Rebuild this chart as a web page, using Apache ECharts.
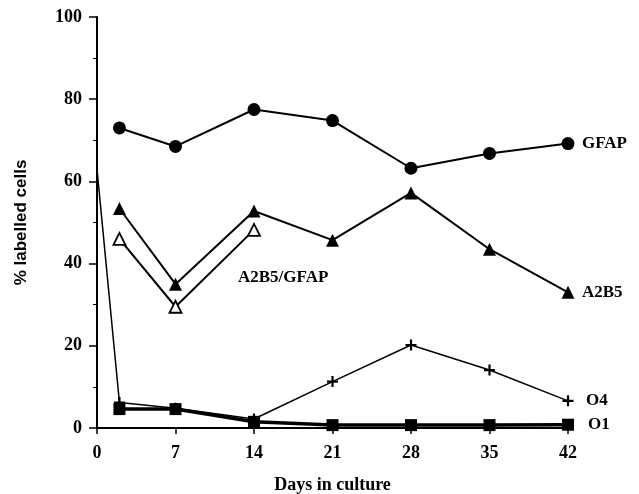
<!DOCTYPE html>
<html>
<head>
<meta charset="utf-8">
<script src="https://cdn.jsdelivr.net/npm/echarts@6/dist/echarts.min.js"></script>
<style>
  html, body { margin: 0; padding: 0; background: #fff; }
  #chart { width: 639px; height: 494px; }
</style>
</head>
<body>
<div id="chart"></div>
<script>
// days in culture
const days = [2, 7, 14, 21, 28, 35, 42];
const a2b5GfapDays = [2, 7, 14];
const o4Days = [0, 2, 7, 14, 21, 28, 35, 42];
// % labelled cells
const gfap = [73, 68.5, 77.5, 74.8, 63.2, 66.8, 69.2];
const a2b5 = [53.4, 35, 52.8, 45.7, 57.2, 43.5, 33];
const a2b5Gfap = [46, 29.5, 48.2];
const o4 = [63, 6.2, 4.8, 2.2, 11.3, 20.2, 14.1, 6.6];
const o1 = [4.6, 4.6, 1.5, 0.7, 0.7, 0.7, 0.8];
const yTicks = [0, 20, 40, 60, 80, 100];
const xTicks = [0, 7, 14, 21, 28, 35, 42];

const serif = "'Liberation Serif', 'Times New Roman', serif";
const plus = "path://M4,0H6V4H10V6H6V10H4V6H0V4H4Z";

const pairs = (xs, ys) => xs.map((x, i) => [x, ys[i]]);

const labelStyle = {
  fontFamily: serif,
  fontWeight: "bold",
  fontSize: 17,
  color: "#000",
};

const chart = echarts.init(document.getElementById("chart"));

chart.setOption({
  animation: false,
  backgroundColor: "#fff",
  grid: { left: 97, right: 71, top: 17, bottom: 66, containLabel: false, outerBoundsMode: "none" },
  xAxis: {
    type: "value",
    min: xTicks[0],
    max: xTicks[xTicks.length - 1],
    interval: 7,
    name: "Days in culture",
    nameLocation: "middle",
    nameGap: 48,
    nameTextStyle: { fontFamily: serif, fontWeight: "bold", fontSize: 18, color: "#000" },
    axisLine: { lineStyle: { color: "#000", width: 2 } },
    axisTick: { show: true, inside: false, length: 6, lineStyle: { color: "#000", width: 1.5 } },
    axisLabel: { margin: 16, fontFamily: serif, fontWeight: "bold", fontSize: 18, color: "#000" },
    splitLine: { show: false },
  },
  yAxis: {
    type: "value",
    min: yTicks[0],
    max: yTicks[yTicks.length - 1],
    interval: 20,
    name: "% labelled cells",
    nameLocation: "middle",
    nameGap: 67,
    nameTextStyle: { fontFamily: "'Liberation Sans', Arial, sans-serif", fontWeight: "bold", fontSize: 17, color: "#000" },
    axisLine: { show: true, lineStyle: { color: "#000", width: 2 } },
    axisTick: { show: true, length: 8, lineStyle: { color: "#000", width: 1.5 } },
    minorTick: { show: true, splitNumber: 2, length: 4, lineStyle: { color: "#000", width: 1 } },
    axisLabel: { margin: 15, fontFamily: serif, fontWeight: "bold", fontSize: 18, color: "#000" },
    splitLine: { show: false },
  },
  series: [
    {
      name: "GFAP",
      type: "line",
      data: pairs(days, gfap),
      symbol: "circle",
      symbolSize: 13,
      itemStyle: { color: "#000" },
      lineStyle: { color: "#000", width: 2 },
      endLabel: Object.assign({ show: true, formatter: "GFAP", distance: 14 }, labelStyle),
    },
    {
      name: "A2B5",
      type: "line",
      data: pairs(days, a2b5),
      symbol: "triangle",
      symbolSize: 13,
      itemStyle: { color: "#000" },
      lineStyle: { color: "#000", width: 2 },
      endLabel: Object.assign({ show: true, formatter: "A2B5", distance: 14 }, labelStyle),
    },
    {
      name: "A2B5/GFAP",
      type: "line",
      data: pairs(a2b5GfapDays, a2b5Gfap),
      symbol: "triangle",
      symbolSize: 12,
      itemStyle: { color: "#fff", borderColor: "#000", borderWidth: 1.8 },
      lineStyle: { color: "#000", width: 2 },
      markPoint: {
        symbol: "rect",
        symbolSize: 1,
        itemStyle: { color: "rgba(0,0,0,0)", borderWidth: 0 },
        data: [{ coord: [16.6, 36.7], name: "A2B5/GFAP" }],
        label: Object.assign({ show: true, position: "inside", formatter: "A2B5/GFAP" }, labelStyle),
      },
    },
    {
      name: "O4",
      type: "line",
      data: pairs(o4Days, o4).map((p, i) => (i === 0 ? { value: p, symbol: "none" } : p)),
      symbol: plus,
      symbolSize: 11,
      itemStyle: { color: "#000" },
      lineStyle: { color: "#000", width: 1.5 },
      endLabel: Object.assign({ show: true, formatter: "O4", distance: 18 }, labelStyle),
    },
    {
      name: "O1",
      type: "line",
      data: pairs(days, o1),
      symbol: "rect",
      symbolSize: 12,
      itemStyle: { color: "#000" },
      lineStyle: { color: "#000", width: 3.5 },
      endLabel: Object.assign({ show: true, formatter: "O1", distance: 20 }, labelStyle),
    },
  ],
});
</script>
</body>
</html>
